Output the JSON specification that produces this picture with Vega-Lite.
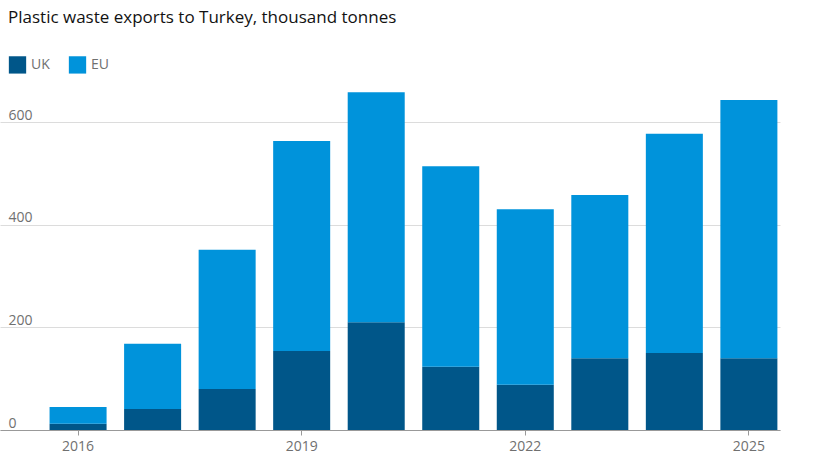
{
  "$schema": "https://vega.github.io/schema/vega-lite/v6.json",
  "autosize": "none",
  "width": 780,
  "height": 349,
  "padding": {"left": 0, "top": 81, "right": 52, "bottom": 35},
  "title": {"text": "Plastic waste exports to Turkey, thousand tonnes", "anchor": "start", "frame": "group", "offset": 28, "dx": 8, "font": "Open Sans", "fontSize": 17, "fontWeight": "normal", "color": "#121212"},
  "config": {"view": {"stroke": null}, "font": "Open Sans"},
  "data": {
    "values": [
      {"year": "2016", "region": "UK", "value": 12}, {"year": "2016", "region": "EU", "value": 33},
      {"year": "2017", "region": "UK", "value": 41}, {"year": "2017", "region": "EU", "value": 127},
      {"year": "2018", "region": "UK", "value": 80}, {"year": "2018", "region": "EU", "value": 271},
      {"year": "2019", "region": "UK", "value": 154}, {"year": "2019", "region": "EU", "value": 409},
      {"year": "2020", "region": "UK", "value": 210}, {"year": "2020", "region": "EU", "value": 448},
      {"year": "2021", "region": "UK", "value": 123}, {"year": "2021", "region": "EU", "value": 391},
      {"year": "2022", "region": "UK", "value": 88}, {"year": "2022", "region": "EU", "value": 342},
      {"year": "2023", "region": "UK", "value": 140}, {"year": "2023", "region": "EU", "value": 318},
      {"year": "2024", "region": "UK", "value": 150}, {"year": "2024", "region": "EU", "value": 427},
      {"year": "2025", "region": "UK", "value": 140}, {"year": "2025", "region": "EU", "value": 503}
    ]
  },
  "transform": [{"calculate": "datum.region === 'UK' ? 0 : 1", "as": "ord"}],
  "mark": {"type": "bar"},
  "encoding": {
    "x": {
      "field": "year", "type": "ordinal", "title": null,
      "scale": {"paddingInner": 0.235, "paddingOuter": 0.35, "align": 0.95},
      "axis": {"values": ["2016", "2019", "2022", "2025"], "labelAngle": 0, "domainColor": "#999", "tickColor": "#999", "tickSize": 5, "labelColor": "#707070", "labelFontSize": 14, "labelPadding": 4}
    },
    "y": {
      "field": "value", "type": "quantitative", "stack": "zero", "title": null,
      "scale": {"domain": [0, 680]},
      "axis": {"values": [0, 200, 400, 600], "orient": "left", "labelAlign": "left", "labelBaseline": "bottom", "labelPadding": -8, "labelDy": -2, "ticks": false, "domain": false, "gridColor": "#dcdcdc", "labelColor": "#707070", "labelFontSize": 14}
    },
    "order": {"field": "ord"},
    "color": {
      "field": "region", "type": "nominal", "title": null,
      "scale": {"domain": ["UK", "EU"], "range": ["#005689", "#0093db"]},
      "legend": {"orient": "none", "legendX": 8, "legendY": -26, "direction": "horizontal", "symbolType": "square", "symbolSize": 300, "symbolOpacity": 1, "labelFontSize": 14, "labelColor": "#707070", "columnPadding": 18}
    }
  }
}
